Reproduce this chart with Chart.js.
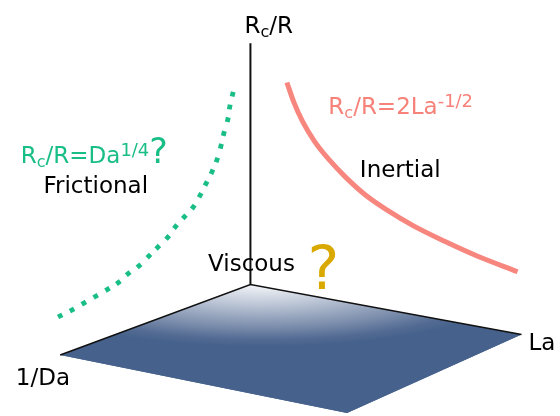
<!DOCTYPE html>
<html><head><meta charset="utf-8">
<script src="https://cdn.jsdelivr.net/npm/chart.js@4/dist/chart.umd.min.js"></script>
<style>html,body{margin:0;padding:0;background:#fff;overflow:hidden}#wrap{width:560px;height:416px;position:relative}</style>
</head><body><div id="wrap"><canvas id="c" width="560" height="416"></canvas></div>
<script>
// Schematic diagram space: x 0..560 to the right, y 0..416 downward
const planeX = [250, 525, 348, 57];      // back, La, front, 1/Da corners of the base plane
const planeY = [286, 337, 417, 358];
const edgeX = [57, 250, 525];            // the two drawn axes on the plane
const edgeY = [358, 286, 337];
const axisX = [250, 250];                // vertical Rc/R axis
const axisY = [286, 40];
// Inertial regime curve Rc/R = 2 La^-1/2
const inertialX = [287, 294, 303, 315, 330, 347, 367, 390, 415, 447, 480, 521];
const inertialY = [80, 100, 120, 140, 159, 177, 195, 211, 226, 242, 257, 273];
// Frictional regime curve Rc/R = Da^1/4 ? (dotted)
const frictionalX = [232, 229, 227, 223, 220, 216, 211, 205, 199, 192, 183, 174, 166, 156, 147, 137, 126, 116, 105, 93, 81, 69, 57];
const frictionalY = [92, 105, 118, 132, 145, 159, 171, 183, 195, 207, 217, 227, 238, 248, 257, 267, 275, 284, 291, 298, 305, 312, 318];
const axisTitles = ['R|c|/R', 'La', '1/Da'];
const regimeNames = ['Frictional', 'Inertial', 'Viscous'];
const laws = ['R|c|/R=Da^1/4', 'R|c|/R=2La^-1/2'];

const FONT = '"DejaVu Sans", Verdana, sans-serif';
const GREEN = '#19be87', RED = '#f6827a', LINE_RED = '#f7867f', BLUE = '#46628c', GOLD = '#d9a900';

function pts(xs, ys) { return xs.map((v, i) => ({x: v, y: ys[i]})); }

// parse "R|c|/R=Da^1/4" -> segments (|..| subscript, ^.. superscript to end)
function parseRich(str) {
  const segs = [];
  let s = str, sup = null;
  const k = s.indexOf('^');
  if (k >= 0) { sup = s.slice(k + 1); s = s.slice(0, k); }
  const parts = s.split('|');
  parts.forEach((p, i) => { if (p) segs.push({t: p, sub: i % 2 === 1}); });
  if (sup) segs.push({t: sup, sup: true});
  return segs;
}

function drawRich(ctx, x, y, str, color, size, extra) {
  let cx = x;
  const segs = parseRich(str);
  if (extra) segs.push(extra);
  for (const s of segs) {
    let fs = size, dy = 0;
    if (s.sub) { fs = size * 0.7; dy = size * 0.16; }
    if (s.sup) { fs = size * 0.78; dy = -size * 0.3; }
    if (s.big) { fs = s.big; }
    ctx.font = fs + 'px ' + FONT;
    ctx.fillStyle = s.color || color;
    ctx.fillText(s.t, cx, y + dy);
    cx += ctx.measureText(s.t).width + (s.gap || 0);
  }
}

const planePlugin = {
  id: 'plane',
  beforeDatasetsDraw(chart) {
    const {ctx, scales: {x, y}} = chart;
    ctx.save();
    ctx.beginPath();
    planeX.forEach((v, i) => {
      const px = x.getPixelForValue(v), py = y.getPixelForValue(planeY[i]);
      if (i) ctx.lineTo(px, py); else ctx.moveTo(px, py);
    });
    ctx.closePath();
    ctx.fillStyle = BLUE;
    ctx.fill();
    ctx.clip();
    const cx = x.getPixelForValue(262), cy = y.getPixelForValue(282);
    ctx.translate(cx, cy);
    ctx.scale(1, 0.25);
    const g = ctx.createRadialGradient(0, 0, 0, 0, 0, 262);
    g.addColorStop(0, '#ffffff');
    g.addColorStop(0.3, '#c9d1de');
    g.addColorStop(0.7, '#7d8fad');
    g.addColorStop(0.9, '#536b93');
    g.addColorStop(1, BLUE);
    ctx.fillStyle = g;
    ctx.fillRect(-400, -1600, 800, 3200);
    ctx.restore();
  }
};

const textPlugin = {
  id: 'texts',
  afterDatasetsDraw(chart) {
    const {ctx, scales: {x, y}} = chart;
    const X = v => x.getPixelForValue(v), Y = v => y.getPixelForValue(v);
    ctx.save();
    ctx.textBaseline = 'alphabetic';
    ctx.textAlign = 'left';
    const S = 23;
    drawRich(ctx, X(244), Y(30), axisTitles[0], '#000', S);
    drawRich(ctx, X(532), Y(353), axisTitles[1], '#000', S);
    drawRich(ctx, X(12), Y(388), axisTitles[2], '#000', S);
    drawRich(ctx, X(40), Y(193), regimeNames[0], '#000', S);
    drawRich(ctx, X(361), Y(176), regimeNames[1], '#000', S);
    drawRich(ctx, X(207), Y(272), regimeNames[2], '#000', S);
    drawRich(ctx, X(17), Y(162), laws[0], GREEN, S, {t: '?', big: 35, color: GREEN});
    drawRich(ctx, X(329), Y(112), laws[1], RED, S);
    ctx.font = '60px ' + FONT;
    ctx.fillStyle = GOLD;
    ctx.fillText('?', X(308), Y(291));
    ctx.restore();
  }
};

function tangentDeg(ctx) {
  const i = ctx.dataIndex, n = frictionalX.length;
  const a = Math.max(0, i - 1), b = Math.min(n - 1, i + 1);
  return Math.atan2(frictionalY[b] - frictionalY[a], frictionalX[b] - frictionalX[a]) * 180 / Math.PI;
}

new Chart(document.getElementById('c'), {
  type: 'scatter',
  data: {
    datasets: [
      {data: pts(edgeX, edgeY), showLine: true, borderColor: '#111', borderWidth: 1.6, pointRadius: 0, clip: false},
      {data: pts(axisX, axisY), showLine: true, borderColor: '#111', borderWidth: 2, pointRadius: 0, clip: false},
      {data: pts(inertialX, inertialY), showLine: true, borderColor: LINE_RED, borderWidth: 5, pointRadius: 0,
       cubicInterpolationMode: 'monotone', borderCapStyle: 'butt', clip: false},
      {data: pts(frictionalX, frictionalY), showLine: false, pointStyle: 'rect', pointRadius: 3.4,
       pointBackgroundColor: GREEN, pointBorderWidth: 0, pointRotation: tangentDeg, clip: false}
    ]
  },
  options: {
    responsive: false,
    animation: false,
    devicePixelRatio: 1,
    layout: {padding: 0},
    plugins: {legend: {display: false}, tooltip: {enabled: false}},
    scales: {
      x: {type: 'linear', min: 0, max: 560, display: false},
      y: {type: 'linear', min: 0, max: 416, reverse: true, display: false}
    }
  },
  plugins: [planePlugin, textPlugin]
});
</script>
</body></html>
